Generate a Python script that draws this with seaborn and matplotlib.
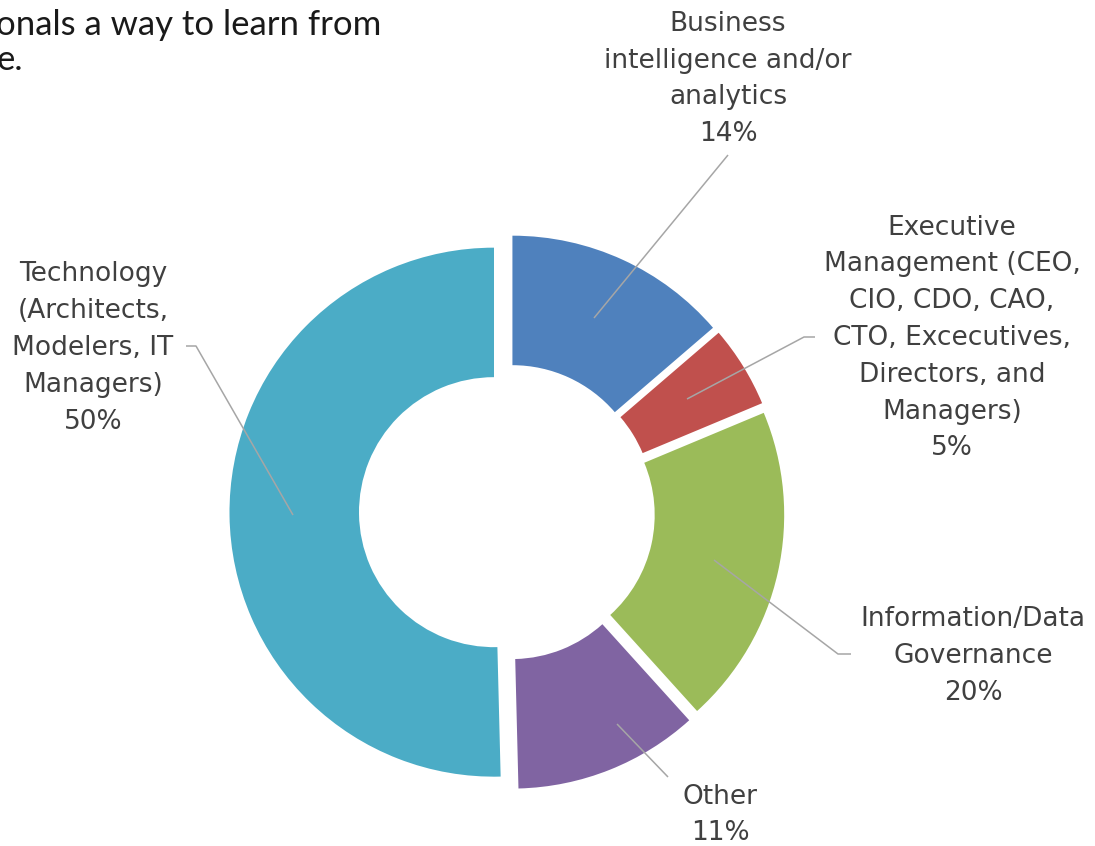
import matplotlib
matplotlib.use("Agg")
import matplotlib.pyplot as plt
import seaborn as sns

# role breakdown (share of respondents, %)
roles = [
    "Business\nintelligence and/or\nanalytics",
    "Executive\nManagement (CEO,\nCIO, CDO, CAO,\nCTO, Excecutives,\nDirectors, and\nManagers)",
    "Information/Data\nGovernance",
    "Other",
    "Technology\n(Architects,\nModelers, IT\nManagers)",
]
shares = [13.7, 5.0, 19.6, 11.3, 50.4]
colors = ["#4F81BD", "#C0504D", "#9BBB59", "#8064A2", "#4BACC6"]

# label placement in pixels (x, y from top) and leader paths
label_pos = [(728, 79), (952, 338), (973, 656), (720, 815), (93, 348)]
leaders = [
    [(594, 318), (728, 155)],
    [(687, 399), (804, 337), (815, 337)],
    [(714, 560), (838, 654), (851, 654)],
    [(617, 724), (668, 777)],
    [(293, 515), (196, 346), (186, 346)],
]

W, H = 1095, 846

sns.set_theme(style="white")
plt.rcParams["font.family"] = ["DejaVu Sans"]

fig = plt.figure(figsize=(W / 100, H / 100), dpi=100)
ax = fig.add_axes([0, 0, 1, 1])


def fy(y):
    return H - y


ax.pie(
    shares,
    colors=colors,
    startangle=90,
    counterclock=False,
    center=(507, fy(512)),
    radius=264.5,
    explode=[13] * len(shares),
    wedgeprops=dict(width=129.5, edgecolor="none"),
)
ax.set_xlim(0, W)
ax.set_ylim(0, H)
ax.set_aspect("auto")
ax.axis("off")

for role, share, (lx, ly), path in zip(roles, shares, label_pos, leaders):
    ax.text(lx, fy(ly), f"{role}\n{share:.0f}%", ha="center", va="center",
            fontsize=19, color="#404040", linespacing=1.54)
    xs = [p[0] for p in path]
    ys = [fy(p[1]) for p in path]
    ax.plot(xs, ys, color="#A6A6A6", lw=1.1, solid_capstyle="butt")

# fragment of the surrounding document text
ax.text(-4, fy(35), "onals a way to learn from", ha="left", va="baseline",
        fontsize=25, color="#1a1a1a", family=["Lato", "DejaVu Sans"])
ax.text(-3, fy(70), "e.", ha="left", va="baseline",
        fontsize=25, color="#1a1a1a", family=["Lato", "DejaVu Sans"])

fig.savefig("out.png", dpi=100)
